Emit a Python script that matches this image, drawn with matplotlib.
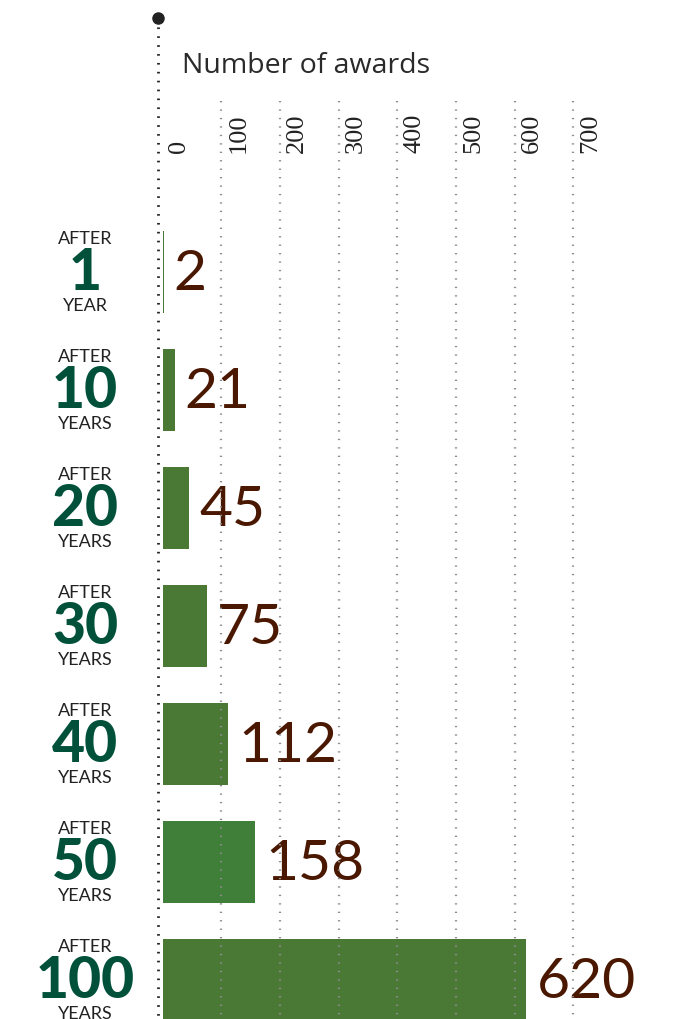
import matplotlib
matplotlib.use("Agg")
import matplotlib.pyplot as plt
import matplotlib.transforms as mtransforms

# ---- data ----
years = ["1", "10", "20", "30", "40", "50", "100"]
units = ["YEAR", "YEARS", "YEARS", "YEARS", "YEARS", "YEARS", "YEARS"]
awards = [2, 21, 45, 75, 112, 158, 620]
ticks = [0, 100, 200, 300, 400, 500, 600, 700]
title = "Number of awards"

# ---- layout ----
W, H, DPI = 674, 1019, 100
fig = plt.figure(figsize=(W / DPI, H / DPI), dpi=DPI)
ax = fig.add_axes([0, 0, 1, 1])
ax.set_axis_off()

zero_px, scale = 162.5, 0.587        # px of value 0, px per unit
y0_px, pitch = 272.0, 118.0          # px of first bar centre, px per row

ax.set_xlim(-zero_px / scale, (W - zero_px) / scale)
ax.set_ylim((H - y0_px) / pitch, -y0_px / pitch)

def py(p):  # vertical pixel -> data
    return (p - y0_px) / pitch

def px(p):  # horizontal pixel -> data
    return (p - zero_px) / scale

bar_colors = ["#4a7936"] * 5 + ["#3f7f39", "#4a7936"]
pos = list(range(len(awards)))
ax.barh(pos, awards, height=82 / pitch, color=bar_colors, zorder=2)

# grid lines (drawn on top)
ax.vlines(ticks[1:], py(101), py(1030), colors="#8c8c8c", linestyles=(0, (0.6, 3.2)),
          linewidth=1.6, zorder=5)
# axis line with top dot
ax.vlines([px(157.7)], py(18), py(1030), colors="#222222", linestyles=(0, (0.6, 2.6)),
          linewidth=2.0, zorder=5)
ax.plot([px(157.7)], [py(18)], "o", color="#222222", markersize=8, zorder=6)

# title
ax.text(px(182), py(73), title, fontsize=20.5, color="#2a2a2a",
        family=["Open Sans", "DejaVu Sans"], ha="left", va="baseline")

# tick labels (rotated, serif)
off = mtransforms.ScaledTranslation(17 / DPI, 0, fig.dpi_scale_trans)
for t in ticks:
    ax.text(t, py(153), str(t), rotation=90, ha="center", va="bottom",
            fontsize=19, color="#222222",
            family=["Liberation Serif", "DejaVu Serif"],
            transform=ax.transData + off)

# value labels
voff = mtransforms.ScaledTranslation(10 / DPI, 0, fig.dpi_scale_trans)
for i, v in enumerate(awards):
    ax.text(v, i + 0.02, str(v), ha="left", va="center", fontsize=41,
            color="#4a1800", family=["Lato", "DejaVu Sans"], fontweight="normal",
            transform=ax.transData + voff, zorder=3)

# left labels
lt = ax.get_yaxis_transform()
xc = 85 / W
for i, (yr, u) in enumerate(zip(years, units)):
    ax.text(xc, i - 33 / pitch, "AFTER", transform=lt, ha="center", va="center",
            fontsize=13, color="#222222", family=["Lato", "DejaVu Sans"])
    ax.text(xc, i + 1 / pitch, yr, transform=lt, ha="center", va="center",
            fontsize=41, color="#00503a", family=["Lato", "DejaVu Sans"],
            fontweight="black")
    ax.text(xc, i + 34 / pitch, u, transform=lt, ha="center", va="center",
            fontsize=13, color="#222222", family=["Lato", "DejaVu Sans"])

fig.savefig("out.png", dpi=DPI)
